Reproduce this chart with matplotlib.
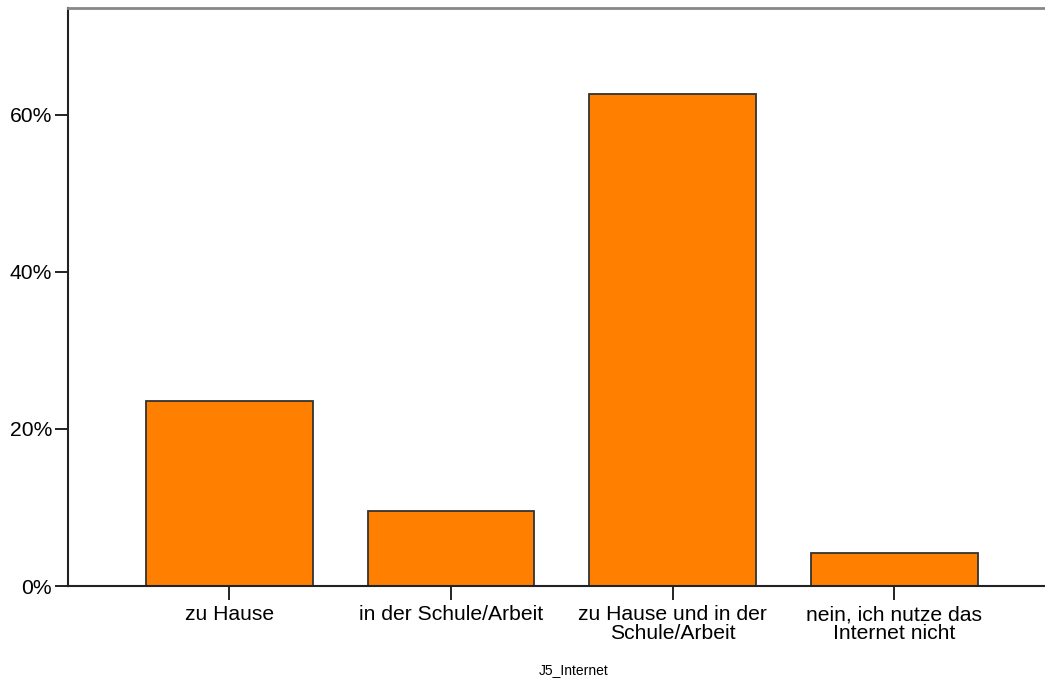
import matplotlib.pyplot as plt
from matplotlib.ticker import FuncFormatter

categories = ["zu Hause", "in der Schule/Arbeit", "zu Hause und in der\nSchule/Arbeit",
              "nein, ich nutze das\nInternet nicht"]
percent = [23.6, 9.5, 62.7, 4.2]
yticks = [0, 20, 40, 60]

plt.rcParams["font.family"] = ["Liberation Sans", "DejaVu Sans"]

fig = plt.figure(figsize=(10.45, 6.84), dpi=100)
ax = fig.add_axes([68 / 1045, (684 - 586) / 684, 1 - 68 / 1045, (586 - 8) / 684])

x = list(range(len(categories)))
ax.bar(x, percent, width=0.753, color="#ff8000", edgecolor="#333333", linewidth=1.3)

ax.set_xlim(-0.728, 3.68)
ax.set_ylim(0, 73.6)
ax.set_xticks(x)
ax.set_xticklabels(categories, fontsize=15.2, linespacing=0.95)
ax.set_yticks(yticks)
ax.yaxis.set_major_formatter(FuncFormatter(lambda v, p: "%d%%" % v))
ax.tick_params(axis="y", labelsize=15.2, length=9.5, width=1.4, color="#222222", pad=2)
ax.tick_params(axis="x", length=10, width=1.4, color="#222222", pad=4)

ax.spines["right"].set_visible(False)
ax.spines["top"].set_color("#888888")
ax.spines["top"].set_linewidth(2)
ax.spines["left"].set_color("#222222")
ax.spines["left"].set_linewidth(1.5)
ax.spines["bottom"].set_color("#222222")
ax.spines["bottom"].set_linewidth(1.5)

ax.set_xlabel("J5_Internet", fontsize=10)
ax.xaxis.set_label_coords((574 - 68) / (1045 - 68), -(663 - 586) / 578)

fig.savefig("out.png", dpi=100)
